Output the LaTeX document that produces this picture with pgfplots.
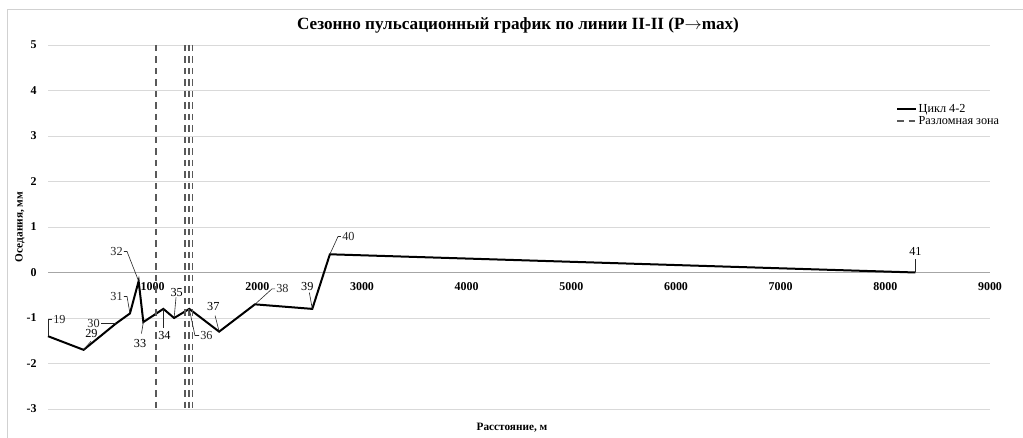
\documentclass[border=0pt]{standalone}
\usepackage{fontspec}
\setmainfont{Liberation Serif}
\usepackage{pgfplots}
\pgfplotsset{compat=1.18}

% settlement profile along line II-II
\pgfplotstableread{
x     y
0     -1.4
340   -1.7
650   -1.12
783   -0.9
866   -0.19
911   -1.09
1102  -0.8
1205  -1.0
1350  -0.8
1635  -1.3
1977  -0.7
2525  -0.8
2693  0.4
8288  0
}\cycle

\tikzset{
  lead/.style={black!85, line width=0.6bp},
  lbl/.style={font=\fontsize{12.3}{14}\selectfont, inner sep=1bp}
}

\begin{document}
\begin{tikzpicture}[x=1bp,y=1bp]
\useasboundingbox (0,0) rectangle (1023,438);
% chart frame
\draw[black!18, line width=0.8bp] (7,-10) -- (7,429) -- (1040,429);

\node[font=\bfseries\fontsize{17.2}{20}\selectfont] at (518,412.5)
  {Сезонно пульсационный график по линии II-II (P$\rightarrow$max)};
\node[font=\bfseries\fontsize{11.3}{13}\selectfont] at (512,10) {Расстояние, м};
\node[font=\bfseries\fontsize{11.3}{13}\selectfont, rotate=90] at (20,211) {Оседания, мм};

\begin{axis}[
  at={(48bp,29bp)}, anchor=south west,
  scale only axis, width=942bp, height=364bp,
  xmin=0, xmax=9000, ymin=-3, ymax=5,
  axis x line=middle, axis y line=left,
  x axis line style={-, black!35, line width=1.2bp},
  y axis line style={draw=none},
  xtick={0,1000,...,9000}, ytick={-3,-2,...,5},
  major tick length=0pt,
  ymajorgrids, grid style={black!15, line width=0.8bp},
  /pgf/number format/assume math mode=true,
  /pgf/number format/1000 sep={},
  scaled ticks=false,
  xticklabel style={font=\bfseries\fontsize{12}{14}\selectfont, yshift=-6.5bp},
  yticklabel style={font=\bfseries\fontsize{12}{14}\selectfont, xshift=-8bp},
  clip=false,
  legend style={at={(0.897,0.848)}, anchor=north west, draw=none, fill=none,
    font=\fontsize{12.3}{14}\selectfont, row sep=0bp,
    nodes={inner sep=1.5bp}},
  legend cell align=left,
  legend image code/.code={\draw[#1] (0bp,0bp) -- (19bp,0bp);},
]
\addplot[black, line width=2bp] table[x=x, y=y] {\cycle};
\addlegendentry{Цикл 4-2}

% fault zone boundaries
\addplot[black!65, line width=1.8bp, dash pattern=on 6.5bp off 5bp]
  coordinates {(1030,5) (1030,-3)};
\addlegendentry{Разломная зона}
\addplot[forget plot, black!65, line width=1.8bp, dash pattern=on 6.5bp off 5bp]
  coordinates {(1310,5) (1310,-3)};
\addplot[forget plot, black!65, line width=1.8bp, dash pattern=on 6.5bp off 5bp]
  coordinates {(1345,5) (1345,-3)};
\addplot[forget plot, black!65, line width=1.8bp, dash pattern=on 6.5bp off 5bp]
  coordinates {(1380,5) (1380,-3)};

% point numbers
\draw[lead] (axis cs:0,-1.4) -- (axis cs:0,-1.033) -- (axis cs:38,-1.033)
  node[lbl, anchor=west] {19};
\draw[lead] (axis cs:340,-1.7) -- (axis cs:411,-1.51);
\node[lbl] at (axis cs:415,-1.35) {29};
\draw[lead] (axis cs:650,-1.12) -- (axis cs:506,-1.12) node[lbl, anchor=east] {30};
\draw[lead] (axis cs:783,-0.9) -- (axis cs:755,-0.527) -- (axis cs:726,-0.527)
  node[lbl, anchor=east] {31};
\draw[lead] (axis cs:866,-0.19) -- (axis cs:755,0.462) -- (axis cs:726,0.462)
  node[lbl, anchor=east] {32};
\draw[lead] (axis cs:911,-1.09) -- (axis cs:893,-1.34);
\node[lbl] at (axis cs:879,-1.56) {33};
\draw[lead] (axis cs:1102,-0.8) -- (axis cs:1102,-1.23);
\node[lbl] at (axis cs:1113,-1.385) {34};
\draw[lead] (axis cs:1205,-1.0) -- (axis cs:1223,-0.549);
\node[lbl] at (axis cs:1230,-0.433) {35};
\draw[lead] (axis cs:1350,-0.8) -- (axis cs:1404,-1.385) -- (axis cs:1443,-1.385)
  node[lbl, anchor=west] {36};
\draw[lead] (axis cs:1635,-1.3) -- (axis cs:1596,-0.945);
\node[lbl] at (axis cs:1579,-0.754) {37};
\draw[lead] (axis cs:1977,-0.7) -- (axis cs:2140,-0.36) -- (axis cs:2169,-0.36)
  node[lbl, anchor=west] {38};
\draw[lead] (axis cs:2525,-0.8) -- (axis cs:2497,-0.44);
\node[lbl] at (axis cs:2477,-0.301) {39};
\draw[lead] (axis cs:2693,0.4) -- (axis cs:2771,0.791) -- (axis cs:2799,0.791)
  node[lbl, anchor=west] {40};
\draw[lead] (axis cs:8288,0) -- (axis cs:8288,0.297);
\node[lbl] at (axis cs:8288,0.468) {41};
\end{axis}
\end{tikzpicture}
\end{document}
